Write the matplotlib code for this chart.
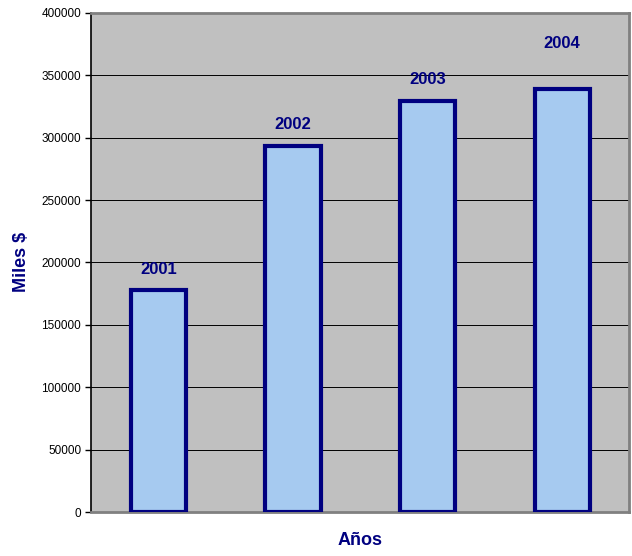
import matplotlib.pyplot as plt
import numpy as np

plt.rcParams['font.family'] = ['Liberation Sans', 'DejaVu Sans']

years = ["2001", "2002", "2003", "2004"]
values = [178000, 293500, 329500, 339000]
yticks = [0, 50000, 100000, 150000, 200000, 250000, 300000, 350000, 400000]

navy = "#000080"

fig = plt.figure(figsize=(6.32, 5.56), dpi=100)
ax = fig.add_axes([0.144, 0.079, 0.852, 0.898])
ax.set_facecolor("#C0C0C0")

x = np.arange(len(years))
ax.bar(x, values, width=0.41, color="#A6CAF0", edgecolor=navy, linewidth=3, zorder=3)

# etiquetas encima de cada barra (la de 2004 queda mas arriba)
for i, (yr, v) in enumerate(zip(years, values)):
    off = 33 if i == len(years) - 1 else 15
    ax.annotate(yr, (x[i], v), xytext=(0, off), textcoords="offset points",
                ha="center", va="center", color=navy, fontsize=12, fontweight="bold")

ax.set_xlim(-0.5, len(years) - 0.5)
ax.set_ylim(0, 400000)
ax.set_yticks(yticks)
ax.set_yticklabels([str(t) for t in yticks], fontsize=8.5)
ax.set_xticks([])
ax.tick_params(axis="y", length=4, width=1, color="black", pad=3)
ax.yaxis.grid(True, color="black", linewidth=0.7, zorder=1)
ax.set_axisbelow(True)

for s in ["top", "right", "bottom"]:
    ax.spines[s].set_color("#808080")
    ax.spines[s].set_linewidth(2)
ax.spines["left"].set_color("black")
ax.spines["left"].set_linewidth(1.2)

ax.set_xlabel("Años", color=navy, fontsize=13, fontweight="bold", labelpad=14)
ax.set_ylabel("Miles $", color=navy, fontsize=13, fontweight="bold", labelpad=8)

fig.savefig("out.png", dpi=100)
